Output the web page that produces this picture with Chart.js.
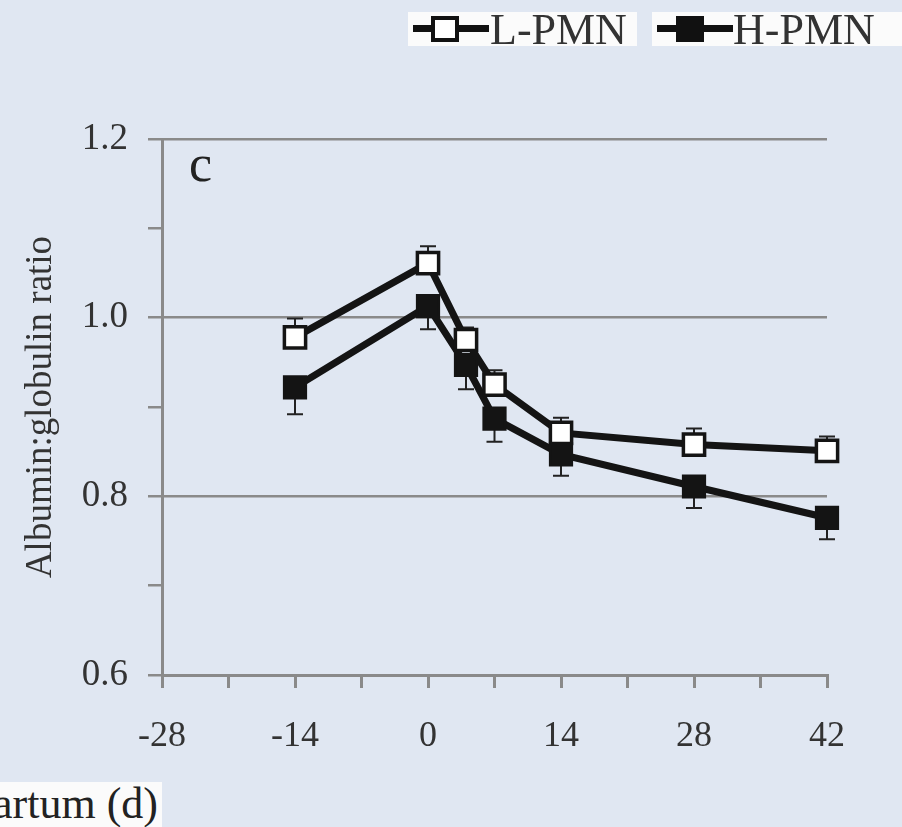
<!DOCTYPE html>
<html>
<head>
<meta charset="utf-8">
<script src="https://cdn.jsdelivr.net/npm/chart.js@4.4.1/dist/chart.umd.min.js"></script>
<style>
  html, body { margin:0; padding:0; background:#e0e7f2; }
  #wrap { position:relative; width:902px; height:827px; overflow:hidden; }
  #chart { position:absolute; left:0; top:0; }
  .lg { position:absolute; top:12px; height:34px; background:#fbfbfb; font-family:"Liberation Serif", serif; font-size:44px; line-height:36px; color:#333; white-space:nowrap; }
  .lg .ln { position:absolute; top:13px; height:7px; background:#111; }
  .lg .sq { position:absolute; top:4px; width:20px; height:18px; border:4px solid #111; background:#fff; }
  .lg .txt { position:absolute; top:0; }
  #panel { position:absolute; left:189px; top:134px; font-family:"Liberation Serif", serif; font-size:52px; color:#222; }
  #xcut { position:absolute; left:0; top:782px; width:162px; height:45px; background:#fbfbfb; overflow:hidden; font-family:"Liberation Serif", serif; font-size:44px; line-height:44px; color:#222; }
  #xcut span { position:absolute; right:4px; top:0; white-space:nowrap; }
</style>
</head>
<body>
<div id="wrap">
  <canvas id="chart" width="902" height="827"></canvas>
  <div class="lg" style="left:408px;width:229px;">
    <div class="ln" style="left:5px;width:76px;"></div>
    <div class="sq" style="left:23px;"></div>
    <div class="txt" style="left:82px;">L-PMN</div>
  </div>
  <div class="lg" style="left:652px;width:250px;">
    <div class="ln" style="left:5px;width:76px;"></div>
    <div class="sq" style="left:24px;background:#111;"></div>
    <div class="txt" style="left:81px;">H-PMN</div>
  </div>
  <div id="panel">c</div>
  <div id="xcut"><span>artum (d)</span></div>
</div>
<script>
// data
const days = [-14, 0, 4, 7, 14, 28, 42];
const lowPMN = [0.978, 1.061, 0.975, 0.925, 0.871, 0.858, 0.851];
const lowErr = [0.021, 0.019, 0.014, 0.016, 0.017, 0.018, 0.016];
const highPMN = [0.922, 1.013, 0.947, 0.887, 0.847, 0.811, 0.776];
const highErr = [0.030, 0.026, 0.027, 0.026, 0.024, 0.024, 0.024];
const xTickLabels = [-28, -14, 0, 14, 28, 42];
const yTickLabels = [0.6, 0.8, 1.0, 1.2];
const yTitle = 'Albumin:globulin ratio';

const AXIS = '#8a8a8a';
const INK = '#141414';
const FONT = '"Liberation Serif", "Times New Roman", serif';

const toPts = vals => days.map((d,i)=>({x:d, y:vals[i]}));

// error bars: L-PMN upward, H-PMN downward, behind the markers
const errorBars = {
  id:'errorBars',
  beforeDatasetsDraw(chart){
    const {ctx, scales:{x, y}} = chart;
    const sets = [{v:lowPMN, e:lowErr, dir:1}, {v:highPMN, e:highErr, dir:-1}];
    ctx.save();
    ctx.strokeStyle = '#222';
    ctx.lineWidth = 2;
    sets.forEach(s=>{
      days.forEach((d,i)=>{
        const px = x.getPixelForValue(d);
        const p0 = y.getPixelForValue(s.v[i]);
        const p1 = y.getPixelForValue(s.v[i] + s.dir*s.e[i]);
        ctx.beginPath();
        ctx.moveTo(px, p0); ctx.lineTo(px, p1);
        ctx.moveTo(px-8, p1); ctx.lineTo(px+8, p1);
        ctx.stroke();
      });
    });
    ctx.restore();
  }
};

new Chart(document.getElementById('chart'), {
  type:'line',
  data:{
    datasets:[
      { label:'L-PMN', data:toPts(lowPMN), borderColor:INK, borderWidth:7, pointStyle:'rect', clip:false,
        pointRadius:15, pointBorderWidth:3.5, pointBackgroundColor:'#fff', pointBorderColor:INK, tension:0 },
      { label:'H-PMN', data:toPts(highPMN), borderColor:INK, borderWidth:7, pointStyle:'rect', clip:false,
        pointRadius:15, pointBorderWidth:3, pointBackgroundColor:INK, pointBorderColor:INK, tension:0 }
    ]
  },
  options:{
    responsive:false,
    animation:false,
    layout:{ padding:{ left:0, top:139, right:75, bottom:72 } },
    plugins:{ legend:{ display:false }, tooltip:{ enabled:false } },
    scales:{
      x:{
        type:'linear', min:xTickLabels[0], max:xTickLabels[xTickLabels.length-1],
        afterFit: s => { s.height = 80; },
        border:{ display:true, color:AXIS, width:3 },
        grid:{ drawOnChartArea:false, color:AXIS, tickColor:AXIS, tickLength:13, lineWidth:3 },
        ticks:{ stepSize:7, autoSkip:false, maxRotation:0, padding:27, color:'#333',
          font:{ family:FONT, size:36 },
          callback: v => xTickLabels.includes(v) ? String(v) : '' }
      },
      y:{
        min:yTickLabels[0], max:yTickLabels[yTickLabels.length-1],
        afterFit: s => { s.width = 162; },
        border:{ display:true, color:AXIS, width:3 },
        grid:{
          color: c => (Math.round(c.tick.value*10) % 2 === 0 && c.tick.value > 0.65) ? AXIS : 'rgba(0,0,0,0)',
          tickColor:AXIS, tickLength:14, lineWidth:2.5
        },
        ticks:{ stepSize:0.1, autoSkip:false, padding:20, color:'#333',
          font:{ family:FONT, size:37 },
          callback: v => (Math.round(v*10) % 2 === 0) ? v.toFixed(1) : '' },
        title:{ display:true, text:yTitle, color:'#333', padding:{top:19, bottom:0},
          font:{ family:FONT, size:37 } }
      }
    }
  },
  plugins:[errorBars]
});
</script>
</body>
</html>
